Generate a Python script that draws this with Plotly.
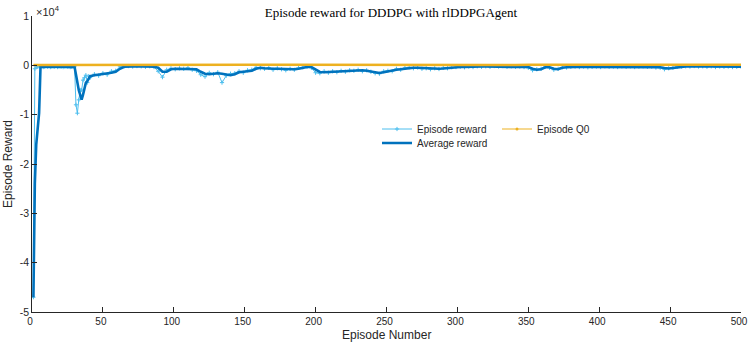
import plotly.graph_objects as go

# ---------------- data ----------------
episodes_early = list(range(1, 41))
episodes_late = list(range(41, 501, 3))
episodes = episodes_early + episodes_late

episode_reward = [
    -47000, -700, -300, -300, -200, -300, -250, -350, -300, -200,
    -300, -250, -350, -300, -250, -300, -200, -350, -300, -250,
    -300, -350, -250, -300, -300, -250, -350, -300, -250, -300,
    -8000, -9700, -7000, -5000, -5000, -3000, -2500, -2000, -3500, -2200,
    # episodes 41..500 every 3
    -2500, -1800, -2100, -1600, -1900, -1200, -1100, -300, -200, -150,
    -250, -150, -200, -300, -200, -350, -1200, -2400, -900, -600,
    -800, -600, -700, -500, -900, -1100, -1900, -2300, -1500, -1800,
    -1400, -3500, -2100, -1700, -1600, -1200, -1500, -1000, -900, -400,
    -600, -700, -500, -900, -600, -800, -1000, -700, -900, -500,
    -400, -300, -500, -1500, -1600, -1200, -1500, -1200, -1400, -1100,
    -1300, -1000, -1100, -900, -1200, -1000, -1300, -1600, -1700, -1200,
    -1100, -1200, -700, -900, -500, -400, -600, -450, -700, -600,
    -800, -600, -750, -500, -600, -400, -350, -300, -400, -250,
    -350, -200, -300, -200, -300, -150, -250, -150, -300, -200,
    -300, -250, -350, -500, -1000, -800, -700, -300, -500, -900,
    -700, -400, -450, -300, -250, -350, -250, -400, -300, -250,
    -350, -200, -300, -250, -350, -200, -300, -200, -350, -250,
    -200, -300, -250, -450, -500, -800, -600, -500, -300, -250,
    -200, -250, -150, -250, -200, -300, -200, -350, -250, -300,
    -250, -350, -300, -250,
]

average_reward = [
    -47000, -24000, -16000, -12000, -9700, -350, -300, -300, -300, -300,
    -300, -290, -300, -310, -300, -290, -300, -310, -300, -290,
    -300, -310, -300, -290, -300, -310, -300, -290, -300, -300,
    -1840, -3720, -5060, -6000, -6940, -5940, -4500, -3500, -3200, -2640,
    # episodes 41..500 every 3
    -2200, -2000, -1900, -1800, -1700, -1500, -1300, -700, -300, -250,
    -200, -200, -200, -250, -250, -300, -500, -1300, -1300, -800,
    -700, -700, -650, -700, -700, -800, -1300, -1700, -1800, -1700,
    -1600, -1700, -1900, -2000, -1800, -1400, -1300, -1200, -1100, -700,
    -500, -600, -700, -700, -700, -750, -850, -900, -800, -700,
    -500, -350, -350, -800, -1350, -1400, -1350, -1350, -1300, -1250,
    -1200, -1150, -1050, -1000, -1000, -1100, -1200, -1400, -1550, -1400,
    -1200, -1100, -900, -800, -650, -500, -500, -500, -550, -650,
    -700, -700, -700, -650, -550, -450, -400, -350, -350, -300,
    -300, -250, -250, -250, -250, -200, -200, -200, -250, -250,
    -250, -300, -300, -350, -700, -900, -800, -400, -400, -700,
    -800, -500, -400, -350, -300, -300, -300, -350, -350, -300,
    -300, -250, -250, -300, -300, -250, -250, -250, -300, -300,
    -250, -250, -300, -350, -400, -550, -650, -550, -400, -300,
    -250, -200, -200, -200, -250, -250, -250, -300, -300, -250,
    -300, -300, -300, -300,
]

q0_episodes = list(range(1, 501, 10)) + [500]
episode_q0 = [
    80, 90, 100, 100, 90, 100, 100, 90, 100, 100,
    90, 100, 100, 90, 100, 100, 90, 100, 100, 90,
    100, 100, 90, 100, 100, 90, 100, 100, 90, 100,
    100, 90, 100, 100, 90, 100, 100, 90, 100, 100,
    90, 100, 100, 90, 100, 100, 90, 100, 100, 90,
    100,
]

y_tick_values = [-50000, -40000, -30000, -20000, -10000, 0, 10000]
y_tick_labels = ["-5", "-4", "-3", "-2", "-1", "0", "1"]
x_tick_values = [0, 50, 100, 150, 200, 250, 300, 350, 400, 450, 500]

# ---------------- styles ----------------
C_EP = "#4DBEEE"
C_AVG = "#0072BD"
C_Q0 = "#EDB120"
AX = "#262626"
SANS = "Liberation Sans, Arial, Helvetica, sans-serif"

fig = go.Figure()

fig.add_trace(go.Scatter(
    x=episodes, y=episode_reward, mode="lines+markers", name="Episode reward",
    line=dict(color=C_EP, width=1), marker=dict(color=C_EP, size=3, symbol="cross-thin",
                                                  line=dict(color=C_EP, width=1)),
    legend="legend",
))
fig.add_trace(go.Scatter(
    x=episodes, y=average_reward, mode="lines", name="Average reward",
    line=dict(color=C_AVG, width=2.6), legend="legend2",
))
fig.add_trace(go.Scatter(
    x=q0_episodes, y=episode_q0, mode="lines", name="Episode Q0",
    line=dict(color=C_Q0, width=2.5), showlegend=False,
))
# legend-only entry for Q0 (thin line as in the reference legend)
fig.add_trace(go.Scatter(
    x=[None], y=[None], mode="lines+markers", name="Episode Q0",
    line=dict(color=C_Q0, width=1), marker=dict(color=C_Q0, size=3),
    legend="legend3",
))

PL, PR, PT, PB = 32, 7, 16, 31
W, H = 748, 343
pw = W - PL - PR
ph = H - PT - PB

def px_to_paper_x(px):
    return (px - PL) / pw

def py_to_paper_y(py):
    return (H - PB - py) / ph

legend_common = dict(
    bgcolor="rgba(0,0,0,0)", borderwidth=0, font=dict(family=SANS, size=10, color=AX),
    xanchor="left", yanchor="middle", orientation="v", itemwidth=30,
)

fig.update_layout(
    width=W, height=H,
    margin=dict(l=PL, r=PR, t=PT, b=PB, autoexpand=False),
    paper_bgcolor="white", plot_bgcolor="white",
    title=dict(text="Episode reward for DDDPG with rlDDPGAgent",
               font=dict(family="Liberation Serif, Times New Roman, serif", size=13, color="black"),
               x=px_to_paper_x(391), xref="paper", xanchor="center",
               y=1 - 12 / H, yref="container", yanchor="middle"),
    xaxis=dict(range=[0, 500], tickvals=x_tick_values, ticks="inside", ticklen=5,
               tickcolor=AX, tickwidth=0.6, showline=True, linecolor=AX, linewidth=0.8,
               showgrid=False, zeroline=False, automargin=False, ticklabeloverflow="allow",
               ticklabelshift=-2,
               tickfont=dict(family=SANS, size=10, color=AX)),
    yaxis=dict(range=[-50000, 10000], tickvals=y_tick_values, ticktext=y_tick_labels,
               ticks="inside", ticklen=5, tickcolor=AX, tickwidth=0.6,
               showline=True, linecolor=AX, linewidth=0.8,
               showgrid=False, zeroline=False, automargin=False, ticklabeloverflow="allow",
               tickfont=dict(family=SANS, size=10.5, color=AX)),
    legend=dict(x=px_to_paper_x(377), y=py_to_paper_y(129), **legend_common),
    legend2=dict(x=px_to_paper_x(377), y=py_to_paper_y(143), **legend_common),
    legend3=dict(x=px_to_paper_x(497), y=py_to_paper_y(129), **legend_common),
    annotations=[
        dict(text="×10<sup>4</sup>", xref="paper", yref="paper",
             x=0, y=1, xanchor="left", yanchor="bottom", yshift=-4, xshift=2,
             showarrow=False, font=dict(family=SANS, size=11, color=AX)),
        dict(text="Episode Number", xref="paper", yref="paper",
             x=px_to_paper_x(386), y=py_to_paper_y(335), xanchor="center", yanchor="middle",
             showarrow=False, font=dict(family=SANS, size=12, color=AX)),
        dict(text="Episode Reward", xref="paper", yref="paper", textangle=-90,
             x=px_to_paper_x(8), y=py_to_paper_y(164), xanchor="center", yanchor="middle",
             showarrow=False, font=dict(family=SANS, size=12, color=AX)),
    ],
)

fig.write_html("out.html", config={"displayModeBar": False},
               post_script="document.body.style.margin='0';")
